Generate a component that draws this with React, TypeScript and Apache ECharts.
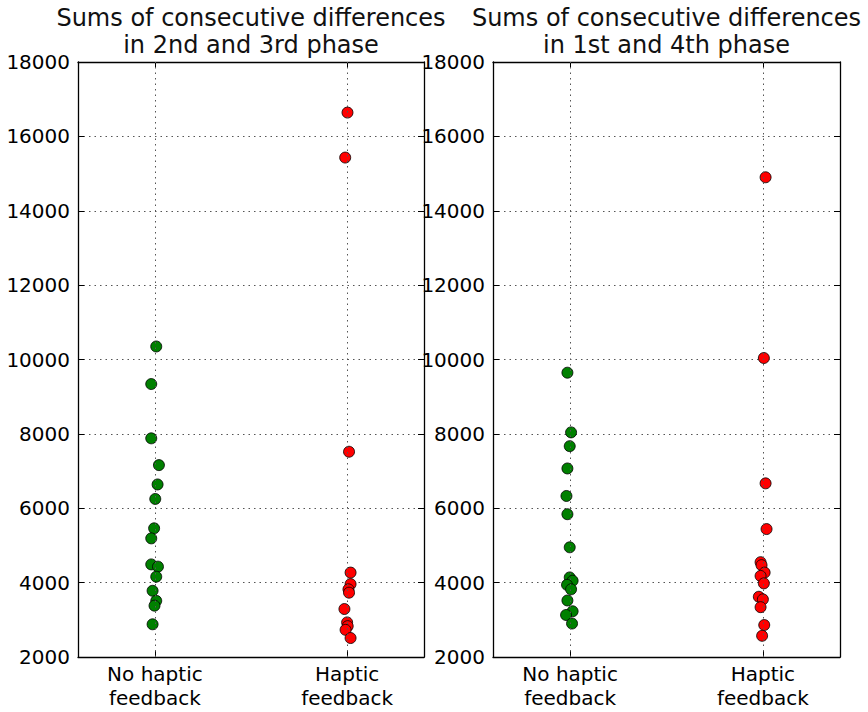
import React, { useEffect, useRef } from "react";
import * as echarts from "echarts";

const categoryLabels = ["No haptic\nfeedback", "Haptic\nfeedback"];
const categoryPositions = [1, 2];
const yMin = 2000;
const yMax = 18000;
const yStep = 2000;
const titles = [
  "Sums of consecutive differences\nin 2nd and 3rd phase",
  "Sums of consecutive differences\nin 1st and 4th phase",
];

// Left panel: 2nd and 3rd phase
const midNoHapticY = [10350, 9340, 7880, 7160, 6640, 6250, 5460, 5190, 4490, 4430, 4160, 3780, 3510, 3380, 2880];
const midNoHapticX = [1.007, 0.981, 0.981, 1.021, 1.014, 1.002, 0.996, 0.981, 0.981, 1.016, 1.007, 0.988, 1.007, 0.998, 0.988];
const midHapticY = [16640, 15430, 7520, 4270, 3960, 3820, 3730, 3290, 2930, 2830, 2730, 2510];
const midHapticX = [2.002, 1.99, 2.01, 2.018, 2.018, 2.007, 2.01, 1.986, 2.0, 2.003, 1.992, 2.018];

// Right panel: 1st and 4th phase
const outerNoHapticY = [9645, 8040, 7670, 7070, 6330, 5840, 4950, 4140, 4050, 3940, 3820, 3520, 3230, 3130, 2900];
const outerNoHapticX = [0.986, 1.005, 0.998, 0.986, 0.981, 0.986, 0.998, 0.998, 1.013, 0.984, 1.005, 0.986, 1.013, 0.979, 1.01];
const outerHapticY = [14900, 10040, 6670, 5440, 4550, 4470, 4270, 4180, 3980, 3620, 3550, 3340, 2860, 2570];
const outerHapticX = [2.014, 2.005, 2.014, 2.019, 1.988, 1.993, 2.009, 1.988, 2.005, 1.979, 2.0, 1.988, 2.007, 1.996];

const FONT = "DejaVu Sans";
const GREEN = "#008000";
const RED = "#ff0000";

const zip = (xs: number[], ys: number[]) => ys.map((y, i) => [xs[i], y]);

export default function App() {
  const ref = useRef<HTMLDivElement>(null);
  useEffect(() => {
    if (!ref.current) return;
    const chart = echarts.init(ref.current, undefined, { renderer: "svg" });
    const grids = [
      { left: 78, top: 62, width: 346, height: 595 },
      { left: 493, top: 62, width: 347, height: 595 },
    ];
    const fmt = (v: number) => {
      for (let i = 0; i < categoryPositions.length; i++) {
        if (Math.abs(v - categoryPositions[i]) < 1e-6) return categoryLabels[i];
      }
      return "";
    };
    const lineStyle = { color: "#000", width: 1.3 };
    const xAxes: any[] = [];
    const yAxes: any[] = [];
    grids.forEach((_, g) => {
      xAxes.push({
        type: "value",
        gridIndex: g,
        position: "bottom",
        min: 0.6,
        max: 2.4,
        axisLine: { show: true, onZero: false, lineStyle },
        axisTick: { show: true, inside: true, length: 6, customValues: categoryPositions, lineStyle: { color: "#000", width: 1 } },
        axisLabel: { show: true, customValues: categoryPositions, formatter: fmt, fontFamily: FONT, fontSize: 20, color: "#000", lineHeight: 24, margin: 5 },
        splitLine: { show: false },
      });
      xAxes.push({
        type: "value",
        gridIndex: g,
        position: "top",
        min: 0.6,
        max: 2.4,
        axisLine: { show: true, onZero: false, lineStyle },
        axisTick: { show: true, inside: true, length: 6, customValues: categoryPositions, lineStyle: { color: "#000", width: 1 } },
        axisLabel: { show: false },
        splitLine: { show: false },
      });
      yAxes.push({
        type: "value",
        gridIndex: g,
        position: "left",
        min: yMin,
        max: yMax,
        interval: yStep,
        axisLine: { show: true, onZero: false, lineStyle },
        axisTick: { show: true, inside: true, length: 6, lineStyle: { color: "#000", width: 1 } },
        axisLabel: { show: true, formatter: (v: number) => String(v), fontFamily: FONT, fontSize: 20, color: "#000", margin: 8 },
        splitLine: { show: true, lineStyle: { color: "#555", width: 1, type: [1.5, 4] } },
      });
      yAxes.push({
        type: "value",
        gridIndex: g,
        position: "right",
        min: yMin,
        max: yMax,
        interval: yStep,
        axisLine: { show: true, onZero: false, lineStyle },
        axisTick: { show: true, inside: true, length: 6, lineStyle: { color: "#000", width: 1 } },
        axisLabel: { show: false },
        splitLine: { show: false },
      });
    });

    const gridLineSeries = (g: number) => ({
      type: "scatter",
      xAxisIndex: g * 2,
      yAxisIndex: g * 2,
      data: [],
      z: 1,
      silent: true,
      markLine: {
        silent: true,
        symbol: ["none", "none"],
        label: { show: false },
        lineStyle: { color: "#555", width: 1, type: [1.5, 4] },
        data: categoryPositions.map((p) => ({ xAxis: p })),
      },
    });

    const pts = (g: number, xs: number[], ys: number[], color: string) => ({
      type: "scatter",
      xAxisIndex: g * 2,
      yAxisIndex: g * 2,
      symbol: "circle",
      symbolSize: 11,
      z: 3,
      itemStyle: { color, borderColor: "#000", borderWidth: 0.8, opacity: 1 },
      data: zip(xs, ys),
    });

    const centers = grids.map((gr) => gr.left + gr.width / 2);

    chart.setOption({
      animation: false,
      backgroundColor: "#fff",
      grid: grids,
      xAxis: xAxes,
      yAxis: yAxes,
      graphic: titles.map((t, i) => ({
        type: "text",
        x: centers[i],
        y: 4,
        style: {
          text: t,
          font: `24px "${FONT}"`,
          fill: "#111",
          textAlign: "center",
          textVerticalAlign: "top",
          lineHeight: 27,
        },
      })),
      series: [
        gridLineSeries(0),
        gridLineSeries(1),
        pts(0, midNoHapticX, midNoHapticY, GREEN),
        pts(0, midHapticX, midHapticY, RED),
        pts(1, outerNoHapticX, outerNoHapticY, GREEN),
        pts(1, outerHapticX, outerHapticY, RED),
      ],
    });
    return () => chart.dispose();
  }, []);
  return (
    <div
      ref={ref}
      style={{ position: "absolute", left: 0, top: 0, width: 868, height: 712, background: "#fff" }}
    />
  );
}
